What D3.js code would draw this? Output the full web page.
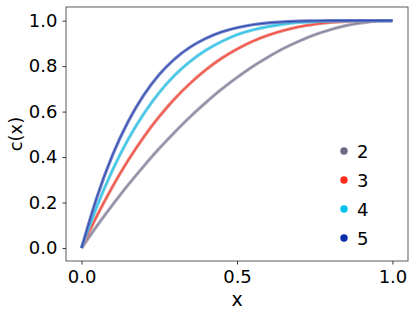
<!DOCTYPE html>
<html>
<head>
<meta charset="utf-8">
<script src="https://cdn.jsdelivr.net/npm/d3@7"></script>
<style>
  body { margin: 0; background: #fff; }
  svg text { font-family: "DejaVu Sans", sans-serif; fill: #000; }
</style>
</head>
<body>
<div id="chart"></div>
<script>
'use strict';

// data
const xs = [0, 0.05, 0.1, 0.15, 0.2, 0.25, 0.3, 0.35, 0.4, 0.45, 0.5,
            0.55, 0.6, 0.65, 0.7, 0.75, 0.8, 0.85, 0.9, 0.95, 1.0];
const c2 = [0, 0.098, 0.19, 0.278, 0.36, 0.438, 0.51, 0.578, 0.64, 0.698, 0.75,
            0.798, 0.84, 0.878, 0.91, 0.938, 0.96, 0.978, 0.99, 0.998, 1];
const c3 = [0, 0.143, 0.271, 0.386, 0.488, 0.578, 0.657, 0.725, 0.784, 0.834, 0.875,
            0.909, 0.936, 0.957, 0.973, 0.984, 0.992, 0.997, 0.999, 1, 1];
const c4 = [0, 0.185, 0.344, 0.478, 0.59, 0.684, 0.76, 0.821, 0.87, 0.908, 0.938,
            0.959, 0.974, 0.985, 0.992, 0.996, 0.998, 1, 1, 1, 1];
const c5 = [0, 0.226, 0.41, 0.556, 0.672, 0.763, 0.832, 0.884, 0.922, 0.95, 0.969,
            0.982, 0.99, 0.995, 0.998, 0.999, 1, 1, 1, 1, 1];
const seriesNames = ['2', '3', '4', '5'];
const xTicks = [0, 0.5, 1.0];
const yTicks = [0, 0.2, 0.4, 0.6, 0.8, 1.0];

const series = [
    { name: seriesNames[0], values: c2, color: '#6b6b88', light: '#a0a0b2' },
    { name: seriesNames[1], values: c3, color: '#ff2a1a', light: '#e8746c' },
    { name: seriesNames[2], values: c4, color: '#00c0f0', light: '#62cae2' },
    { name: seriesNames[3], values: c5, color: '#0a2ea8', light: '#6474c2' }
];

const W = 415, H = 316;
const plot = { left: 66, right: 408, top: 7, bottom: 261 };

const x = d3.scaleLinear().domain([-0.05, 1.05]).range([plot.left, plot.right]);
const y = d3.scaleLinear().domain([-0.057, 1.06]).range([plot.bottom, plot.top]);

const svg = d3.select('#chart').append('svg')
    .attr('width', W)
    .attr('height', H);

// axes
const xAxis = svg.append('g')
    .attr('transform', `translate(0, ${plot.bottom})`)
    .call(d3.axisBottom(x).tickValues(xTicks).tickFormat(d3.format('.1f')).tickSize(3.5).tickPadding(5.5));

const yAxis = svg.append('g')
    .attr('transform', `translate(${plot.left}, 0)`)
    .call(d3.axisLeft(y).tickValues(yTicks).tickFormat(d3.format('.1f')).tickSize(3.5).tickPadding(5));

[xAxis, yAxis].forEach(g => {
    g.select('.domain').remove();
    g.selectAll('.tick line').attr('stroke', '#000').attr('stroke-width', 0.8);
    g.selectAll('.tick text').style('font-size', '18px').attr('fill', '#000');
});

// frame
svg.append('rect')
    .attr('x', plot.left)
    .attr('y', plot.top)
    .attr('width', plot.right - plot.left)
    .attr('height', plot.bottom - plot.top)
    .attr('fill', 'none')
    .attr('stroke', '#333')
    .attr('stroke-width', 0.8);

// curves
const line = d3.line()
    .x((d, i) => x(xs[i]))
    .y(d => y(d))
    .curve(d3.curveMonotoneX);

const curves = svg.append('g');
series.forEach(s => {
    curves.append('path')
        .attr('d', line(s.values))
        .attr('fill', 'none')
        .attr('stroke', s.light)
        .attr('stroke-opacity', 0.9)
        .attr('stroke-width', 3.2);
    curves.append('path')
        .attr('d', line(s.values))
        .attr('fill', 'none')
        .attr('stroke', s.color)
        .attr('stroke-opacity', 0.7)
        .attr('stroke-width', 1);
});

// axis labels
svg.append('text')
    .attr('x', x(0.5))
    .attr('y', 306)
    .attr('text-anchor', 'middle')
    .style('font-size', '19px')
    .text('x');

svg.append('text')
    .attr('transform', `translate(22, ${(plot.top + plot.bottom) / 2}) rotate(-90)`)
    .attr('text-anchor', 'middle')
    .style('font-size', '18px')
    .text('c(x)');

// legend
const legend = svg.append('g')
    .attr('transform', 'translate(344, 151)');

const rows = legend.selectAll('g')
    .data(series)
    .join('g')
    .attr('transform', (d, i) => `translate(0, ${i * 29})`);

rows.append('circle')
    .attr('r', 3.7)
    .attr('fill', d => d.color);

rows.append('text')
    .attr('x', 13)
    .attr('y', 6.5)
    .style('font-size', '18px')
    .text(d => d.name);
</script>
</body>
</html>
